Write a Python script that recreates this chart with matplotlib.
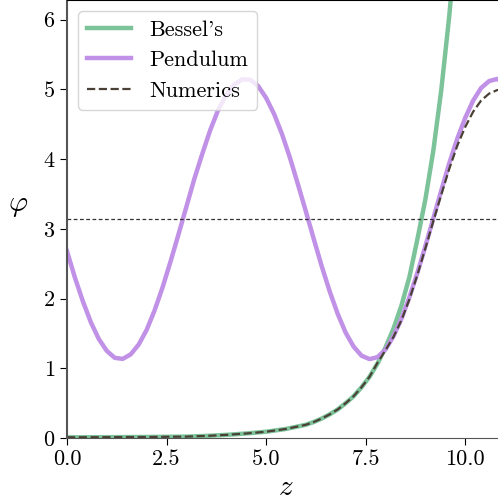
import numpy as np
import matplotlib.pyplot as plt

plt.rcParams['font.family'] = 'serif'
plt.rcParams['font.serif'] = ['cmr10']
plt.rcParams['mathtext.fontset'] = 'cm'
plt.rcParams['axes.formatter.use_mathtext'] = True

# values
z = [0.0, 0.2, 0.4, 0.6, 0.8, 1.0, 1.2, 1.4, 1.6, 1.8, 2.0, 2.2, 2.4, 2.6, 2.8,
     3.0, 3.2, 3.4, 3.6, 3.8, 4.0, 4.2, 4.4, 4.6, 4.8, 5.0, 5.2, 5.4, 5.6, 5.8,
     6.0, 6.2, 6.4, 6.6, 6.8, 7.0, 7.2, 7.4, 7.6, 7.8, 8.0, 8.2, 8.4, 8.6, 8.8,
     9.0, 9.2, 9.4, 9.6, 9.8, 10.0, 10.2, 10.4, 10.6, 10.8, 11.0]
pendulum = [2.68, 2.30, 1.96, 1.66, 1.42, 1.25, 1.15, 1.135, 1.20, 1.34, 1.55, 1.83, 2.16, 2.53, 2.92,
            3.32, 3.72, 4.08, 4.42, 4.71, 4.92, 5.07, 5.145, 5.14, 5.05, 4.88, 4.65, 4.36, 4.02, 3.64,
            3.25, 2.85, 2.46, 2.10, 1.78, 1.51, 1.31, 1.18, 1.132, 1.16, 1.27, 1.46, 1.71, 2.02, 2.37,
            2.75, 3.15, 3.55, 3.94, 4.29, 4.59, 4.84, 5.02, 5.12, 5.15, 5.10]
z_b = [0.0, 1.0, 2.0, 3.0, 3.5, 4.0, 4.5, 5.0, 5.5, 6.0, 6.2, 6.4, 6.6, 6.8,
       7.0, 7.2, 7.4, 7.6, 7.8, 8.0, 8.2, 8.4, 8.6, 8.8, 9.0, 9.2, 9.4, 9.6, 9.8]
bessel = [0.01, 0.012, 0.015, 0.02, 0.03, 0.045, 0.065, 0.09, 0.13, 0.19, 0.23, 0.28, 0.34, 0.41,
          0.50, 0.60, 0.73, 0.88, 1.07, 1.30, 1.57, 1.90, 2.31, 2.85, 3.42, 4.12, 4.99, 6.05, 7.30]
z_n = [0.0, 1.0, 2.0, 3.0, 3.5, 4.0, 4.5, 5.0, 5.5, 6.0, 6.2, 6.4, 6.6, 6.8,
       7.0, 7.2, 7.4, 7.6, 7.8, 8.0, 8.2, 8.4, 8.6, 8.8, 9.0, 9.2, 9.4, 9.6, 9.8,
       10.0, 10.2, 10.4, 10.6, 10.8, 11.0]
numerics = [0.01, 0.012, 0.015, 0.02, 0.03, 0.045, 0.065, 0.09, 0.13, 0.19, 0.23, 0.28, 0.34, 0.41,
            0.50, 0.60, 0.73, 0.88, 1.08, 1.26, 1.45, 1.69, 1.99, 2.34, 2.72, 3.11, 3.49, 3.86, 4.19,
            4.46, 4.68, 4.84, 4.94, 4.99, 5.01]

fig = plt.figure(figsize=(4.98, 5.03), dpi=100)
ax = fig.add_axes([0.1345, 0.1292, 0.8795, 0.8708])

ax.plot(z_b, bessel, color='#7cc39a', lw=3.2, solid_joinstyle='round', label="Bessel's")
ax.plot(z, pendulum, color='#c091e6', lw=3.2, solid_joinstyle='round', label='Pendulum')
ax.plot(z_n, numerics, '--', color='#4a4035', lw=1.6, label='Numerics')
ax.axhline(np.pi, color='#333333', ls='--', lw=0.9, dashes=(3, 2))

ax.set_xlim(0, 11)
ax.set_ylim(0, 2 * np.pi)
ax.set_xticks([0, 2.5, 5, 7.5, 10])
ax.set_xticklabels(['0.0', '2.5', '5.0', '7.5', '10.0'])
ax.set_yticks([0, 1, 2, 3, 4, 5, 6])
ax.tick_params(labelsize=16, length=5)
ax.set_xlabel(r'$z$', fontsize=21, labelpad=4)
ax.set_ylabel(r'$\varphi$', fontsize=21, rotation=0, labelpad=18)
ax.spines['left'].set_color('#555555')
ax.spines['bottom'].set_color('#555555')
ax.spines['left'].set_linewidth(1.5)
ax.legend(loc='upper left', fontsize=16, handlelength=2.0, borderaxespad=0.5)

plt.savefig('out.png')
